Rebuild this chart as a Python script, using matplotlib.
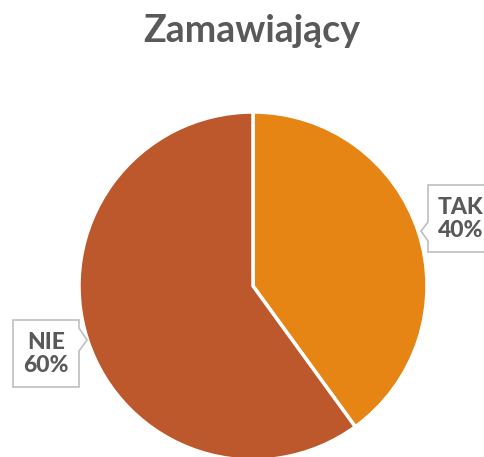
import matplotlib.pyplot as plt
from matplotlib.patches import Polygon

labels = ['TAK', 'NIE']
values = [40, 60]
colors = ['#E68514', '#BD582C']

W, H = 485, 457
fig = plt.figure(figsize=(W / 100, H / 100), dpi=100)
ax = fig.add_axes([0, 0, 1, 1])

# pie centre and radius in pixel coords (y measured from bottom)
cx, cy, r = 253, H - 286, 174
ax.pie(values, colors=colors, startangle=90, counterclock=False,
       center=(cx, cy), radius=r, frame=True,
       wedgeprops=dict(edgecolor='white', linewidth=2.5))
ax.set_xlim(0, W)
ax.set_ylim(0, H)
ax.set_aspect('equal')
ax.axis('off')

fig.text(252 / W, 1 - 31 / H, 'Zamawiający', ha='center', va='center',
         fontsize=27, fontweight='bold', color='#595959', family='Lato')


def callout(x0, x1, y0, y1, side, tip, py0, py1):
    # y values given from top, converted here
    t, b = H - y0, H - y1
    if side == 'left':
        pts = [(x0, t), (x1, t), (x1, b), (x0, b),
               (x0, H - py1), (tip[0], H - tip[1]), (x0, H - py0)]
    else:
        pts = [(x0, t), (x1, t), (x1, H - py0), (tip[0], H - tip[1]),
               (x1, H - py1), (x1, b), (x0, b)]
    ax.add_patch(Polygon(pts, closed=True, facecolor='white',
                         edgecolor='#BFBFBF', linewidth=1.2, zorder=5))


callout(428, 500, 185, 252, 'left', (421, 231), 222, 241)
callout(13, 79, 320, 387, 'right', (87, 340), 328, 351)

pct = [f'{v / sum(values) * 100:.0f}%' for v in values]
ax.text(461, H - 219, f'{labels[0]}\n{pct[0]}', ha='center', va='center',
        fontsize=16.5, fontweight='black', color='#595959', family='Lato',
        linespacing=1.1, zorder=6)
ax.text(46, H - 354, f'{labels[1]}\n{pct[1]}', ha='center', va='center',
        fontsize=16.5, fontweight='black', color='#595959', family='Lato',
        linespacing=1.1, zorder=6)

fig.savefig('out.png', dpi=100, facecolor='white')
